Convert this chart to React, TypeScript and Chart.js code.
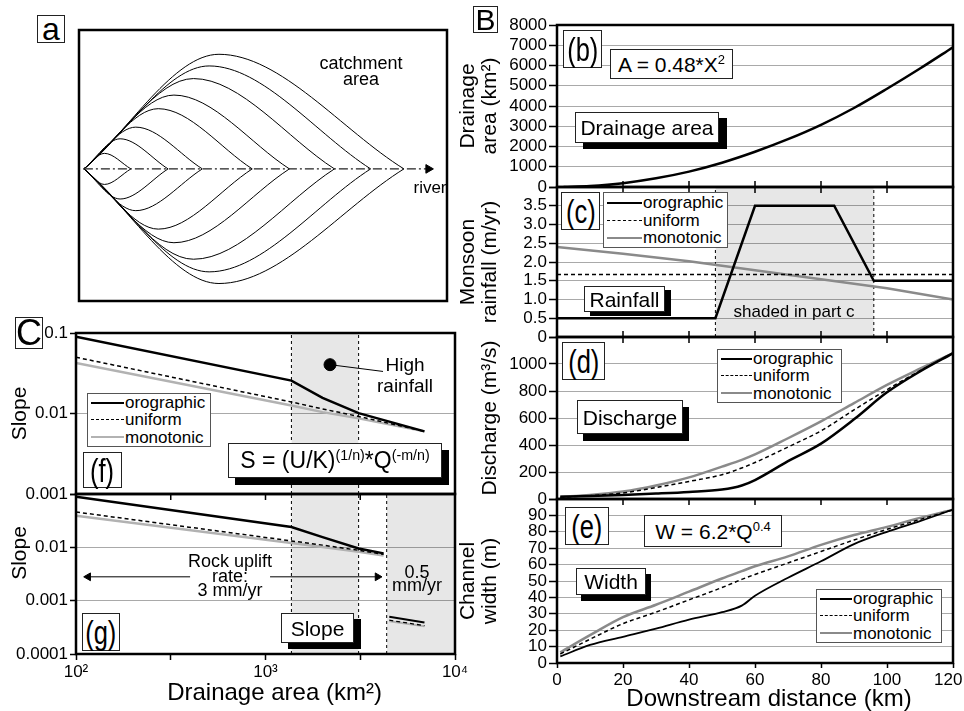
import React, { useEffect, useRef } from 'react';
import { Chart, registerables } from 'chart.js';

Chart.register(...registerables);

const FONT = "'Liberation Sans', Arial, Helvetica, sans-serif";
Chart.defaults.font.family = FONT;
Chart.defaults.color = '#000';

// ---------- (a) catchment sketch ----------
const lensOrigin = 0;
const lensTip = [48, 86, 121, 172, 210, 256, 293, 327];
const lensCrest = [21, 37, 53, 76, 92, 112, 128, 138];
const lensHalfWidth = [16, 31, 43, 62, 76, 93, 106, 118];
const riverEnd = 352;

// ---------- (b) drainage area ----------
const areaKm = [2, 10, 20, 30, 40, 50, 60, 70, 80, 90, 100, 110, 120];
const areaKm2 = [2, 50, 190, 430, 760, 1200, 1740, 2360, 3070, 3900, 4850, 5850, 6900];

// ---------- (c) rainfall ----------
const rainOroKm = [0, 48, 60, 84, 96, 120];
const rainOro = [0.5, 0.5, 3.5, 3.5, 1.5, 1.5];
const rainUniKm = [0, 120];
const rainUni = [1.67, 1.67];
const rainMonoKm = [0, 20, 40, 60, 80, 100, 120];
const rainMono = [2.4, 2.22, 2.02, 1.78, 1.54, 1.3, 1.0];
const shadeKm = [48, 96];

// ---------- (d) discharge / (e) width ----------
const flowKm = [1, 10, 20, 30, 40, 50, 56, 60, 70, 80, 90, 100, 110, 120];
const dischargeOro = [17, 22, 30, 40, 52, 70, 100, 140, 280, 410, 590, 790, 945, 1080];
const dischargeUni = [12, 25, 45, 85, 130, 180, 230, 270, 385, 505, 660, 810, 950, 1080];
const dischargeMono = [17, 30, 55, 100, 160, 240, 290, 330, 450, 575, 710, 845, 965, 1080];
const widthOro = [4, 11, 16, 21, 26.5, 31, 35, 41, 52, 62, 72.5, 80, 86.5, 93.5];
const widthUni = [5.5, 14.5, 24, 31, 38.5, 46, 51, 54, 61, 68, 75, 81.5, 87.5, 93.5];
const widthMono = [6.5, 17, 28, 35.5, 43.5, 51.5, 56, 59, 65, 72, 78, 83, 88.5, 93.5];

// ---------- (f) slope, uniform uplift ----------
const slopeFArea = [100, 1370, 2000, 3100, 6900];
const slopeFOro = [0.09, 0.0256, 0.0156, 0.0101, 0.006];
const slopeFUni = [0.05, 0.0139, 0.0114, 0.0092, 0.006];
const slopeFMono = [0.0424, 0.0126, 0.0104, 0.0087, 0.006];
const highRainArea = [2190, 4170];
const highRainSlope = [0.0404, 0.0333];

// ---------- (g) slope, two uplift rates ----------
const slopeGArea = [100, 1370, 2000, 3100, 4200];
const slopeGOro = [0.089, 0.024, 0.0155, 0.0095, 0.0077];
const slopeGUni = [0.046, 0.0132, 0.011, 0.0088, 0.0074];
const slopeGMono = [0.039, 0.0121, 0.0101, 0.0083, 0.007];
const slopeGLowArea = [4500, 6900];
const slopeGLowOro = [0.0005, 0.00039];
const slopeGLowUni = [0.00043, 0.00034];
const slopeGLowMono = [0.00041, 0.00033];
const shadeArea = [1370, 3100];
const lowUpliftArea = [4360, 10000];
const upliftArrowSlope = 0.0028;
const upliftArrowLeft = [400, 116];
const upliftArrowRight = [1057, 3900];

// ---------- ticks ----------
const distanceTicks = [0, 20, 40, 60, 80, 100, 120];
const areaTickVals = [0, 1000, 2000, 3000, 4000, 5000, 6000, 7000, 8000];
const areaTickLabels = ['0', '1000', '2000', '3000', '4000', '5000', '6000', '7000', '8000'];
const rainTickVals = [0, 0.5, 1, 1.5, 2, 2.5, 3, 3.5, 4];
const rainTickLabels = ['0', '0.5', '1.0', '1.5', '2.0', '2.5', '3.0', '3.5', ''];
const dischargeTickVals = [0, 200, 400, 600, 800, 1000, 1200];
const dischargeTickLabels = ['0', '200', '400', '600', '800', '1000', ''];
const widthTickVals = [0, 10, 20, 30, 40, 50, 60, 70, 80, 90, 100];
const widthTickLabels = ['0', '10', '20', '30', '40', '50', '60', '70', '80', '90', ''];
const slopeFTickVals = [0.001, 0.01, 0.1];
const slopeFTickLabels = ['0.001', '0.01', '0.1'];
const slopeGTickVals = [0.0001, 0.001, 0.01, 0.1];
const slopeGTickLabels = ['0.0001', '0.001', '0.01', ''];
const areaLogTickVals = [100, 316.2, 1000, 3162, 10000];
const areaLogTickLabels = ['10\u00B2', '', '10\u00B3', '', '10\u2074'];

// ---------- styles ----------
const BLACK = '#000';
const GRAY_B = '#8a8a8a';
const GRAY_C = '#b2b2b2';
const SHADE = 'rgba(0,0,0,0.095)';
const GRID = '#a9a9a9';
const DASH = [4, 3];

const zip = (xs: number[], ys: number[]) => xs.map((x, i) => ({ x, y: ys[i] }));

const line = (data: any[], color: string, width: number, dash: number[] = [], smooth = false) => ({
  data,
  borderColor: color,
  backgroundColor: color,
  borderWidth: width,
  borderDash: dash,
  pointRadius: 0,
  fill: false,
  tension: 0,
  cubicInterpolationMode: smooth ? 'monotone' : 'default',
});

const shadeDs = (x0: number, x1: number, yTop: number) => ({
  data: [{ x: x0, y: yTop }, { x: x1, y: yTop }],
  borderWidth: 0,
  borderColor: 'rgba(0,0,0,0)',
  backgroundColor: SHADE,
  fill: 'start',
  pointRadius: 0,
  order: 20,
});

const vDash = (x: number, y0: number, y1: number) => ({
  data: [{ x, y: y0 }, { x, y: y1 }],
  borderColor: '#000',
  borderWidth: 1,
  borderDash: [3, 3],
  pointRadius: 0,
  fill: false,
  order: 10,
});

const framePlugin = {
  id: 'frame',
  afterDraw(chart: any, _args: any, opts: any) {
    const { ctx, chartArea } = chart;
    const { left, top, right, bottom } = chartArea;
    ctx.save();
    const xs = chart.scales.x;
    const len = opts.tickLen ?? 6;
    if (xs && (opts.innerTop || opts.innerBottom)) {
      ctx.strokeStyle = '#000';
      ctx.lineWidth = 1.5;
      ctx.beginPath();
      xs.ticks.forEach((t: any) => {
        const px = xs.getPixelForValue(t.value);
        if (px <= left + 3 || px >= right - 3) return;
        if (opts.innerTop) {
          ctx.moveTo(px, top);
          ctx.lineTo(px, top + len);
        }
        if (opts.innerBottom) {
          ctx.moveTo(px, bottom);
          ctx.lineTo(px, bottom - len);
        }
      });
      ctx.stroke();
    }
    ctx.strokeStyle = '#000';
    ctx.lineWidth = opts.lw ?? 2.5;
    ctx.strokeRect(left, top, right - left, bottom - top);
    ctx.restore();
  },
};

const baseOptions = (padding: any, frame: any) => ({
  responsive: false,
  animation: false,
  devicePixelRatio: 1,
  events: [],
  layout: { padding },
  plugins: { legend: { display: false }, tooltip: { enabled: false }, frame },
});

// ----- scale builders -----
const xDistance = (isBottom: boolean) => ({
  type: 'linear',
  min: 0,
  max: 120,
  afterBuildTicks: (s: any) => {
    s.ticks = distanceTicks.map((v) => ({ value: v }));
  },
  ticks: {
    display: isBottom,
    font: { size: 17 },
    padding: 2,
    maxRotation: 0,
    autoSkip: false,
    // a trailing figure space keeps the last label inside the page edge
    callback: (v: any, i: number) => (i === distanceTicks.length - 1 ? String(v) + '\u2007' : String(v)),
  },
  grid: { drawOnChartArea: false, drawTicks: isBottom, tickLength: 5, tickColor: '#000', tickWidth: 1.5 },
  border: { display: false },
  title: isBottom
    ? {
        display: true,
        text: '\u2003\u2006Downstream distance (km)',
        font: { size: 24, lineHeight: 1 },
        padding: { top: 0, bottom: 0 },
      }
    : { display: false },
  afterFit: (s: any) => {
    s.height = isBottom ? 48 : 0;
    s.paddingLeft = 0;
    s.paddingRight = 0;
  },
});

const yLinear = (min: number, max: number, vals: number[], labels: string[], title: any, titlePad: number) => ({
  type: 'linear',
  min,
  max,
  afterBuildTicks: (s: any) => {
    s.ticks = vals.map((v) => ({ value: v }));
  },
  ticks: { font: { size: 17 }, padding: 2, autoSkip: false, callback: (_v: any, i: number) => labels[i] },
  grid: { color: GRID, lineWidth: 1, tickColor: '#000', tickLength: 8, tickWidth: 1.5 },
  border: { display: false },
  title: { display: true, text: title, font: { size: 21, lineHeight: 1.05 }, padding: { top: titlePad, bottom: 0 } },
  afterFit: (s: any) => {
    s.width = 102;
    s.paddingTop = 0;
    s.paddingBottom = 0;
  },
});

const xLogArea = (isBottom: boolean) => ({
  type: 'logarithmic',
  min: 100,
  max: 10000,
  afterBuildTicks: (s: any) => {
    s.ticks = areaLogTickVals.map((v) => ({ value: v }));
  },
  ticks: {
    display: isBottom,
    font: { size: 17 },
    padding: 2,
    maxRotation: 0,
    autoSkip: false,
    callback: (_v: any, i: number) => areaLogTickLabels[i],
  },
  grid: { drawOnChartArea: false, drawTicks: isBottom, tickLength: 6, tickColor: '#000', tickWidth: 1.5 },
  border: { display: false },
  title: isBottom
    ? {
        display: true,
        text: '\u2002\u2005Drainage area (km\u00B2)',
        font: { size: 24, lineHeight: 1 },
        padding: { top: 0, bottom: 6 },
      }
    : { display: false },
  afterFit: (s: any) => {
    s.height = isBottom ? 57 : 0;
    s.paddingLeft = 0;
    s.paddingRight = 0;
  },
});

const yLogSlope = (min: number, max: number, vals: number[], labels: string[], title: string) => ({
  type: 'logarithmic',
  min,
  max,
  afterBuildTicks: (s: any) => {
    s.ticks = vals.map((v) => ({ value: v }));
  },
  ticks: { font: { size: 17 }, padding: 2, autoSkip: false, callback: (_v: any, i: number) => labels[i] },
  grid: { color: GRID, lineWidth: 1, tickColor: '#000', tickLength: 6, tickWidth: 1.5 },
  border: { display: false },
  title: { display: true, text: title, font: { size: 21, lineHeight: 1.05 }, padding: { top: 9, bottom: 0 } },
  afterFit: (s: any) => {
    s.width = 76;
    s.paddingTop = 0;
    s.paddingBottom = 0;
  },
});

// ----- chart configs -----
const catchmentConfig = () => {
  const lenses = lensTip.flatMap((tip, i) =>
    [1, -1].map((sgn) =>
      line(
        [
          { x: lensOrigin, y: 0 },
          { x: lensCrest[i], y: sgn * lensHalfWidth[i] },
          { x: tip, y: 0 },
        ],
        '#000',
        1,
        [],
        true
      )
    )
  );
  const river = {
    data: [
      { x: lensOrigin, y: 0 },
      { x: riverEnd, y: 0 },
    ],
    borderColor: '#222',
    borderWidth: 1.3,
    borderDash: [9, 3, 2, 3],
    pointStyle: 'triangle',
    pointRadius: [0, 5],
    pointRotation: 90,
    pointBackgroundColor: '#000',
    pointBorderColor: '#000',
    pointBorderWidth: 1,
    fill: false,
  };
  return {
    type: 'line',
    data: { datasets: [river, ...lenses] },
    options: {
      ...baseOptions(2, { lw: 2.5 }),
      scales: {
        x: { type: 'linear', min: -5, max: 371, display: false },
        y: { type: 'linear', min: -136, max: 143, display: false },
      },
    },
    plugins: [framePlugin],
  };
};

const areaConfig = () => ({
  type: 'line',
  data: { datasets: [line(zip(areaKm, areaKm2), BLACK, 2.5, [], true)] },
  options: {
    ...baseOptions({ top: 15, right: 11, bottom: 10, left: 0 }, { innerBottom: true }),
    scales: {
      x: xDistance(false),
      y: yLinear(0, 8000, areaTickVals, areaTickLabels, ['Drainage', 'area (km\u00B2)'], 2),
    },
  },
  plugins: [framePlugin],
});

const rainConfig = () => ({
  type: 'line',
  data: {
    datasets: [
      line(zip(rainOroKm, rainOro), BLACK, 2.5),
      line(zip(rainUniKm, rainUni), BLACK, 1.5, DASH),
      line(zip(rainMonoKm, rainMono), GRAY_B, 2.5),
      vDash(shadeKm[0], 0, 4),
      vDash(shadeKm[1], 0, 4),
      shadeDs(shadeKm[0], shadeKm[1], 4),
    ],
  },
  options: {
    ...baseOptions({ top: 10, right: 11, bottom: 10, left: 0 }, { innerTop: true, innerBottom: true }),
    scales: {
      x: xDistance(false),
      y: yLinear(0, 4, rainTickVals, rainTickLabels, ['Monsoon', 'rainfall (m/yr)'], 2),
    },
  },
  plugins: [framePlugin],
});

const dischargeConfig = () => ({
  type: 'line',
  data: {
    datasets: [
      line(zip(flowKm, dischargeOro), BLACK, 2.5, [], true),
      line(zip(flowKm, dischargeUni), BLACK, 1.5, DASH, true),
      line(zip(flowKm, dischargeMono), GRAY_B, 2.5, [], true),
    ],
  },
  options: {
    ...baseOptions({ top: 10, right: 11, bottom: 10, left: 0 }, { innerTop: true }),
    scales: {
      x: xDistance(false),
      y: yLinear(0, 1200, dischargeTickVals, dischargeTickLabels, 'Discharge (m\u00B3/s)', 24),
    },
  },
  plugins: [framePlugin],
});

const widthConfig = () => ({
  type: 'line',
  data: {
    datasets: [
      line(zip(flowKm, widthOro), BLACK, 1.8, [], true),
      line(zip(flowKm, widthUni), BLACK, 1.5, DASH, true),
      line(zip(flowKm, widthMono), GRAY_B, 2.5, [], true),
    ],
  },
  options: {
    ...baseOptions({ top: 10, right: 11, bottom: 0, left: 0 }, { innerTop: true }),
    scales: {
      x: xDistance(true),
      y: yLinear(0, 100, widthTickVals, widthTickLabels, ['Channel', 'width (m)'], 2),
    },
  },
  plugins: [framePlugin],
});

const slopeFConfig = () => ({
  type: 'line',
  data: {
    datasets: [
      line(zip(slopeFArea, slopeFOro), BLACK, 2.5),
      line(zip(slopeFArea, slopeFUni), BLACK, 1.5, DASH),
      line(zip(slopeFArea, slopeFMono), GRAY_C, 2.5),
      {
        data: zip(highRainArea, highRainSlope),
        borderColor: '#000',
        borderWidth: 1,
        pointRadius: [6, 0],
        pointBackgroundColor: '#000',
        pointBorderColor: '#000',
        fill: false,
      },
      vDash(shadeArea[0], 0.001, 0.1),
      vDash(shadeArea[1], 0.001, 0.1),
      shadeDs(shadeArea[0], shadeArea[1], 0.1),
    ],
  },
  options: {
    ...baseOptions({ top: 15, right: 15, bottom: 10, left: 0 }, {}),
    scales: {
      x: xLogArea(false),
      y: yLogSlope(0.001, 0.1, slopeFTickVals, slopeFTickLabels, 'Slope'),
    },
  },
  plugins: [framePlugin],
});

const arrowDs = (xs: number[], rot: number) => ({
  data: xs.map((x) => ({ x, y: upliftArrowSlope })),
  borderColor: '#000',
  borderWidth: 1,
  pointStyle: 'triangle',
  pointRadius: [0, 4.5],
  pointRotation: rot,
  pointBackgroundColor: '#000',
  pointBorderColor: '#000',
  pointBorderWidth: 1,
  fill: false,
});

const slopeGConfig = () => ({
  type: 'line',
  data: {
    datasets: [
      line(zip(slopeGArea, slopeGOro), BLACK, 2.5),
      line(zip(slopeGArea, slopeGUni), BLACK, 1.5, DASH),
      line(zip(slopeGArea, slopeGMono), GRAY_C, 2.5),
      line(zip(slopeGLowArea, slopeGLowOro), BLACK, 2),
      line(zip(slopeGLowArea, slopeGLowUni), BLACK, 1.3, DASH),
      line(zip(slopeGLowArea, slopeGLowMono), GRAY_C, 2),
      arrowDs(upliftArrowLeft, -90),
      arrowDs(upliftArrowRight, 90),
      vDash(shadeArea[0], 0.0001, 0.1),
      vDash(shadeArea[1], 0.0001, 0.1),
      vDash(lowUpliftArea[0], 0.0001, 0.1),
      shadeDs(shadeArea[0], shadeArea[1], 0.1),
      shadeDs(lowUpliftArea[0], lowUpliftArea[1], 0.1),
    ],
  },
  options: {
    ...baseOptions({ top: 10, right: 15, bottom: 0, left: 0 }, { innerTop: true }),
    scales: {
      x: xLogArea(true),
      y: yLogSlope(0.0001, 0.1, slopeGTickVals, slopeGTickLabels, '\u2003\u2003Slope'),
    },
  },
  plugins: [framePlugin],
});

// ---------- components ----------
function ChartCanvas({ left, top, width, height, config }: any) {
  const ref = useRef<HTMLCanvasElement>(null);
  useEffect(() => {
    const chart = new Chart(ref.current as HTMLCanvasElement, config() as any);
    return () => chart.destroy();
  }, []);
  return (
    <div style={{ position: 'absolute', left, top, width, height }}>
      <canvas ref={ref} width={width} height={height} style={{ width, height, display: 'block' }} />
    </div>
  );
}

const Sup = ({ children }: any) => (
  <span style={{ fontSize: '0.62em', position: 'relative', top: '-0.55em' }}>{children}</span>
);

function Box({ x, y, w, h, size, children, shadow, condensed, border = '1px solid #222' }: any) {
  return (
    <div
      style={{
        position: 'absolute',
        left: x,
        top: y,
        width: w,
        height: h,
        boxSizing: 'border-box',
        border,
        background: '#fff',
        boxShadow: shadow ? `${shadow[0]}px ${shadow[1]}px 0 #000` : undefined,
        display: 'flex',
        alignItems: 'center',
        justifyContent: 'center',
        fontSize: size,
        lineHeight: 1,
        whiteSpace: 'nowrap',
      }}
    >
      <span style={{ display: 'inline-block', transform: condensed ? `scaleX(${condensed})` : undefined }}>{children}</span>
    </div>
  );
}

function Txt({ x, y, size, lh, children }: any) {
  return (
    <div
      style={{
        position: 'absolute',
        left: x,
        top: y,
        transform: 'translate(-50%, -50%)',
        fontSize: size,
        lineHeight: `${lh ?? size}px`,
        textAlign: 'center',
        whiteSpace: 'nowrap',
      }}
    >
      {children}
    </div>
  );
}

const legendItems = (gray: string) => [
  { label: 'orographic', color: '#000', width: 2.5, dash: false },
  { label: 'uniform', color: '#000', width: 1.5, dash: true },
  { label: 'monotonic', color: gray, width: 2.5, dash: false },
];

function Legend({ x, y, w, h, sample, gray }: any) {
  return (
    <div
      style={{
        position: 'absolute',
        left: x,
        top: y,
        width: w,
        height: h,
        boxSizing: 'border-box',
        border: '1px solid #555',
        background: '#fff',
        padding: '0 0 0 3px',
        fontSize: 17,
        display: 'flex',
        flexDirection: 'column',
        justifyContent: 'center',
      }}
    >
      {legendItems(gray).map((it) => (
        <div key={it.label} style={{ display: 'flex', alignItems: 'center', height: 17.5, lineHeight: '17px' }}>
          <span
            style={{
              display: 'inline-block',
              width: sample,
              borderTop: `${it.width}px ${it.dash ? 'dashed' : 'solid'} ${it.color}`,
              marginRight: 1,
            }}
          />
          <span>{it.label}</span>
        </div>
      ))}
    </div>
  );
}

export default function App() {
  return (
    <div
      style={{
        position: 'absolute',
        left: 0,
        top: 0,
        width: 964,
        height: 711,
        overflow: 'hidden',
        background: '#fff',
        fontFamily: FONT,
        color: '#000',
      }}
    >
      {/* charts */}
      <ChartCanvas left={73} top={24} width={380} height={283} config={catchmentConfig} />
      <ChartCanvas left={455} top={10} width={509} height={187} config={areaConfig} />
      <ChartCanvas left={455} top={177} width={509} height={170} config={rainConfig} />
      <ChartCanvas left={455} top={327} width={509} height={182} config={dischargeConfig} />
      <ChartCanvas left={455} top={489} width={509} height={222} config={widthConfig} />
      <ChartCanvas left={0} top={318} width={470} height={186} config={slopeFConfig} />
      <ChartCanvas left={0} top={484} width={470} height={227} config={slopeGConfig} />

      {/* panel letters */}
      <Box x={37} y={15} w={28} h={28} size={32}>a</Box>
      <Box x={473} y={6} w={25} h={27} size={30}>B</Box>
      <Box x={15} y={317} w={28} h={32} size={36}>C</Box>

      {/* (a) texts */}
      <Txt x={361} y={71} size={18} lh={16}>
        catchment
        <br />
        area
      </Txt>
      <Txt x={430} y={187} size={17}>river</Txt>

      {/* (b) */}
      <Box x={563} y={30} w={39} h={38} size={34} condensed={0.75}>(b)</Box>
      <Box x={610} y={49} w={123} h={30} size={21}>
        A = 0.48*X<Sup>2</Sup>
      </Box>
      <Box x={575} y={112} w={144} h={31} size={21} shadow={[8, 6]}>Drainage area</Box>

      {/* (c) */}
      <Box x={561} y={192} w={39} h={38} size={34} condensed={0.75}>(c)</Box>
      <Legend x={603} y={192} w={125} h={56} sample={35} gray={GRAY_B} />
      <Box x={584} y={286} w={81} h={26} size={21} shadow={[6, 4]}>Rainfall</Box>
      <Txt x={794} y={311} size={17}>shaded in part c</Txt>

      {/* (d) */}
      <Box x={562} y={342} w={43} h={38} size={34} condensed={0.75}>(d)</Box>
      <Legend x={717} y={349} w={125} h={54} sample={31} gray={GRAY_B} />
      <Box x={577} y={400} w={106} h={34} size={21} shadow={[6, 7]}>Discharge</Box>

      {/* (e) */}
      <Box x={565} y={507} w={44} h={38} size={34} condensed={0.75}>(e)</Box>
      <Box x={644} y={515} w={138} h={32} size={21}>
        W = 6.2*Q<Sup>0.4</Sup>
      </Box>
      <Box x={576} y={568} w={70} h={27} size={21} shadow={[5, 6]}>Width</Box>
      <Legend x={816} y={589} w={126} h={54} sample={32} gray={GRAY_B} />

      {/* (f) */}
      <Legend x={87} y={393} w={124} h={54} sample={33} gray={GRAY_C} />
      <Box x={83} y={452} w={39} h={36} size={34} condensed={0.75}>(f)</Box>
      <Box x={228} y={443} w={214} h={35} size={23} shadow={[7, 7]}>
        S = (U/K)<Sup>(1/n)</Sup>*Q<Sup>(-m/n)</Sup>
      </Box>
      <Txt x={405} y={375} size={19} lh={21}>
        High
        <br />
        rainfall
      </Txt>

      {/* (g) */}
      <Box x={82} y={613} w={38} h={38} size={34} condensed={0.75}>(g)</Box>
      <Box x={281} y={613} w={73} h={30} size={21} shadow={[7, 6]}>Slope</Box>
      <Txt x={230} y={576} size={18} lh={14.5}>
        Rock uplift
        <br />
        rate:
        <br />3 mm/yr
      </Txt>
      <Txt x={417} y={579} size={18} lh={13}>
        0.5
        <br />
        mm/yr
      </Txt>
    </div>
  );
}
